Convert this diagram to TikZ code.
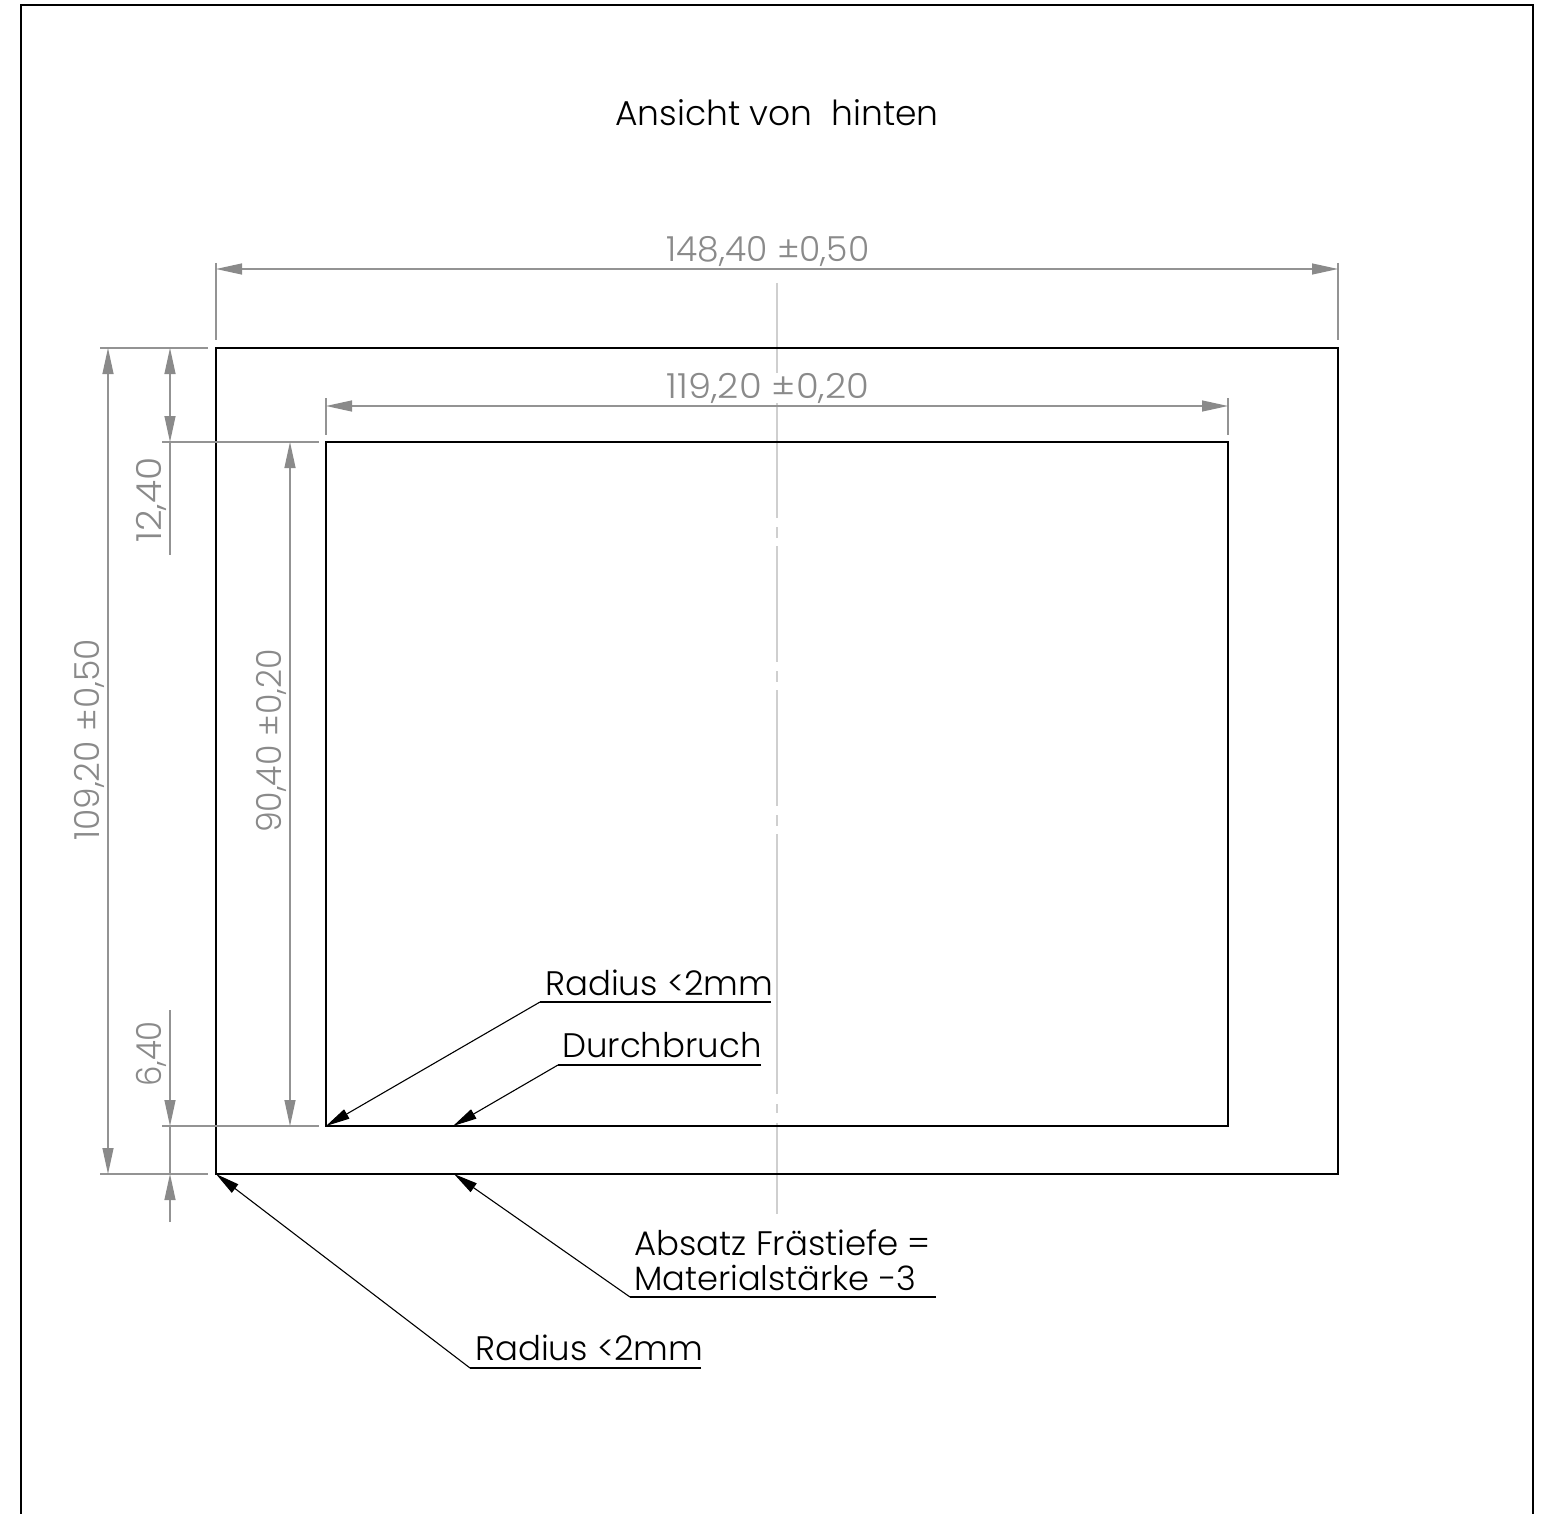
\documentclass[tikz,border=0pt]{standalone}
\usepackage{graphicx}
\usepackage{fontspec}
\setmainfont{Poppins}[UprightFont=* Light]
\usetikzlibrary{arrows.meta}
\definecolor{dimgray}{HTML}{8A8A8A}
\definecolor{linegray}{HTML}{939393}
\definecolor{centergray}{HTML}{CFCFCF}
\tikzset{
  x=1pt,y=-1pt,
  edge/.style={draw=black,line width=1.6pt},
  frameline/.style={draw=black,line width=1.4pt},
  extline/.style={draw=linegray,line width=1.2pt},
  dimline/.style={draw=linegray,line width=1.2pt,{Triangle[length=26pt,width=11pt,color=dimgray]}-{Triangle[length=26pt,width=11pt,color=dimgray]}},
  dimone/.style={draw=linegray,line width=1.2pt,-{Triangle[length=26pt,width=11pt,color=dimgray]}},
  center/.style={draw=centergray,line width=1.3pt},
  leader/.style={draw=black,line width=1.1pt,-{Triangle[length=24pt,width=10.5pt,color=black]}},
  under/.style={draw=black,line width=1.1pt},
  dimtext/.style={text=dimgray,font=\fontsize{34.5}{36}\selectfont,inner sep=0pt},
  note/.style={text=black,font=\fontsize{34}{36}\selectfont,inner sep=0pt,anchor=base west},
}
\begin{document}
\begin{tikzpicture}
\useasboundingbox (0,0) rectangle (1545,1514);
\fill[white] (0,0) rectangle (1545,1514);
% frame
\coordinate (fbl) at (21,1514); \coordinate (ftl) at (21,5);
\coordinate (ftr) at (1533,5); \coordinate (fbr) at (1533,1514);
\draw[frameline] (fbl) -- (ftl) -- (ftr) -- (fbr);
% centre line
\draw[center] (777,283) -- (777,373) (777,403) -- (777,518) (777,527) -- (777,538) (777,546) -- (777,662)
 (777,671) -- (777,682) (777,690) -- (777,806) (777,815) -- (777,826) (777,834) -- (777,1094)
 (777,1104) -- (777,1113) (777,1123) -- (777,1214);
% plates
\node[edge,draw,minimum width=1122pt,minimum height=826pt,inner sep=0pt] (outer) at (777,761) {};
\node[edge,draw,minimum width=902pt,minimum height=684pt,inner sep=0pt] (inner) at (777,784) {};
% extension lines
\draw[extline] (216,263) -- (216,340);
\draw[extline] (1338,263) -- (1338,340);
\draw[extline] (326,398) -- (326,435);
\draw[extline] (1228,398) -- (1228,435);
\draw[extline] (100,348) -- (208,348);
\draw[extline] (162,442) -- (319,442);
\draw[extline] (162,1126) -- (319,1126);
\draw[extline] (100,1174) -- (208,1174);
% dimensions
\coordinate (w1a) at (216,269); \coordinate (w1b) at (1338,269);
\coordinate (w2a) at (326,406); \coordinate (w2b) at (1228,406);
\draw[dimline] (w1a) -- (w1b);
\draw[dimline] (w2a) -- (w2b);
\coordinate (h1a) at (108,348); \coordinate (h1b) at (108,1174);
\coordinate (h2a) at (290,442); \coordinate (h2b) at (290,1126);
\draw[dimline] (h1a) -- (h1b);
\draw[dimline] (h2a) -- (h2b);
\coordinate (s1a) at (170,348); \coordinate (s1b) at (170,442); \coordinate (s1c) at (170,555);
\draw[dimline] (s1a) -- (s1b);
\draw[extline] (s1b) -- (s1c);
\coordinate (s2a) at (170,1010); \coordinate (s2b) at (170,1126);
\coordinate (s2c) at (170,1222); \coordinate (s2d) at (170,1174);
\draw[dimone] (s2a) -- (s2b);
\draw[dimone] (s2c) -- (s2d);
\draw[extline] (s2b) -- (s2d);
% dimension text
\node[dimtext] (t148) at (768,251) {148,40 ±0,50};
\node[dimtext] (t119) at (768,388) {\scalebox{1.07}[1]{119,20 ±0,20}};
\node[dimtext,rotate=90] (t109) at (89,740) {109,20 ±0,50};
\node[dimtext,rotate=90] (t90) at (271,741) {\scalebox{0.96}[1]{90,40 ±0,20}};
\node[dimtext,rotate=90] (t124) at (151,500) {\scalebox{1.09}[1]{12,40}};
\node[dimtext,rotate=90] (t64) at (151,1054) {\scalebox{0.94}[1]{6,40}};
% title and notes
\node[note,font=\fontsize{34.5}{36}\selectfont] (title) at (615,126) {Ansicht von\ \ hinten};
\node[note] (n1) at (545,995) {Radius <2mm};
\node[note] (n2) at (562,1057) {Durchbruch};
\node[note] (n3) at (634,1255) {Absatz Frästiefe =};
\node[note,font=\fontsize{33.7}{36}\selectfont] (n4) at (634,1290) {Materialstärke -3};
\node[note] (n5) at (475,1360) {Radius <2mm};
% leaders
\coordinate (l1a) at (771,1002); \coordinate (l1b) at (540,1002); \coordinate (l1c) at (326,1126);
\draw[under] (l1a) -- (l1b);
\draw[leader] (l1b) -- (l1c);
\coordinate (l2a) at (761,1065); \coordinate (l2b) at (558,1065); \coordinate (l2c) at (453,1126);
\draw[under] (l2a) -- (l2b);
\draw[leader] (l2b) -- (l2c);
\coordinate (l3a) at (936,1297); \coordinate (l3b) at (630,1297); \coordinate (l3c) at (454,1174);
\draw[under] (l3a) -- (l3b);
\draw[leader] (l3b) -- (l3c);
\coordinate (l4a) at (701,1368); \coordinate (l4b) at (470,1368); \coordinate (l4c) at (216,1174);
\draw[under] (l4a) -- (l4b);
\draw[leader] (l4b) -- (l4c);
\end{tikzpicture}
\end{document}
